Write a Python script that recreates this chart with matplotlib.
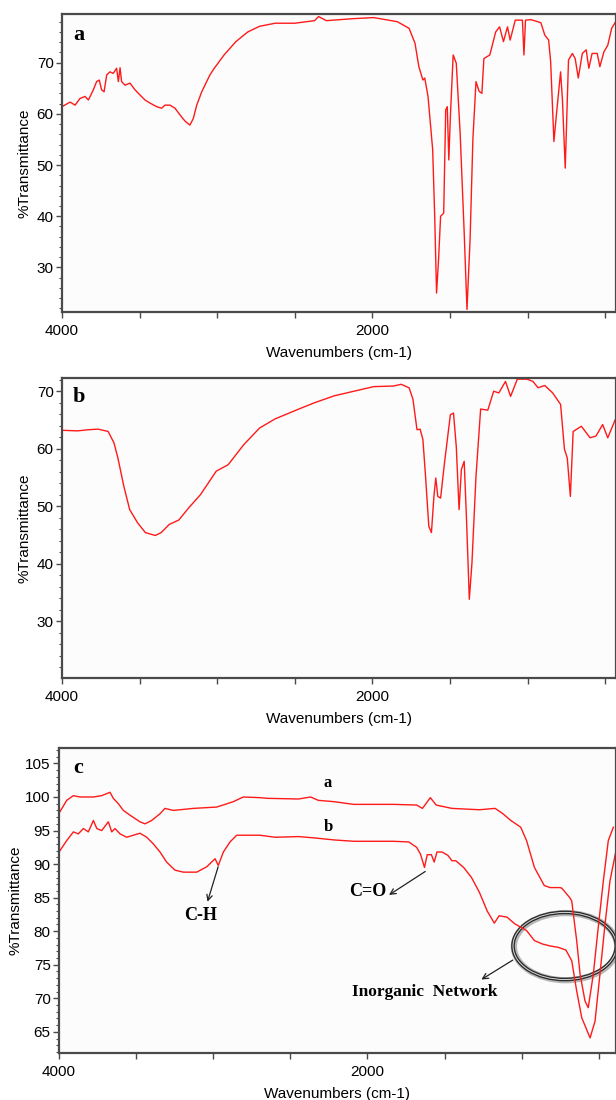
import matplotlib
matplotlib.use("Agg")
import matplotlib.pyplot as plt
from matplotlib.patches import Ellipse
from matplotlib.ticker import MultipleLocator, FixedLocator, FuncFormatter

# spectrum a
wn_a = [4000, 3948, 3916, 3884, 3852, 3830, 3798, 3777, 3760, 3745, 3729, 3712, 3691, 3670,
        3648, 3637, 3626, 3616, 3594, 3562, 3530, 3498, 3465, 3433, 3390, 3358, 3337, 3304,
        3272, 3240, 3208, 3176, 3154, 3132, 3100, 3068, 3047, 3019, 2956, 2880,
        2803, 2727, 2626, 2500, 2373, 2347, 2297, 2119, 1992, 1916, 1840, 1764, 1726, 1701,
        1675, 1663, 1642, 1612, 1599, 1587, 1574, 1561, 1541, 1528, 1518, 1508, 1498, 1480,
        1460, 1435, 1409, 1391, 1371, 1353, 1333, 1313, 1295, 1282, 1244, 1206, 1181, 1156,
        1130, 1113, 1080, 1034, 1024, 1014, 979, 915, 890, 865, 852, 831, 814, 788, 776, 758,
        737, 712, 694, 674, 648, 623, 606, 585, 552, 535, 509, 484, 459, 433]
t_a = [61.4, 62.3, 61.7, 63.0, 63.4, 62.7, 64.7, 66.3, 66.6, 64.7, 64.3, 67.6, 68.2, 67.9,
       68.9, 66.3, 69.0, 66.3, 65.6, 66.0, 64.7, 63.7, 62.7, 62.1, 61.4, 61.1, 61.7, 61.7,
       61.1, 59.8, 58.6, 57.8, 59.1, 61.7, 64.3, 66.3, 67.6, 68.9, 71.5, 74.1,
       76.0, 77.1, 77.7, 77.7, 78.2, 79.0, 78.2, 78.6, 78.8, 78.4, 78.0, 76.7, 73.8, 69.2,
       66.6, 67.0, 63.4, 53.0, 40.0, 25.0, 31.6, 40.0, 40.6, 60.8, 61.4, 51.0, 59.5, 71.5,
       69.9, 56.2, 36.8, 21.8, 35.5, 55.0, 66.3, 64.4, 64.0, 70.8, 71.5, 76.0, 77.0, 74.1,
       77.0, 74.4, 78.3, 78.3, 71.5, 78.3, 78.4, 77.8, 75.4, 74.4, 70.2, 54.6, 60.1, 68.2,
       62.7, 49.4, 70.5, 71.8, 70.8, 67.0, 71.8, 72.5, 68.9, 71.8, 71.8, 69.2, 72.1, 73.4,
       76.7, 78.0]

# spectrum b
wn_b = [4000, 3900, 3830, 3767, 3703, 3665, 3640, 3602, 3564, 3513, 3463, 3399, 3361, 3310,
        3247, 3184, 3108, 3006, 2930, 2829, 2727, 2626, 2474, 2373, 2246, 2119, 1992, 1866,
        1815, 1764, 1739, 1713, 1693, 1675, 1658, 1637, 1620, 1604, 1592, 1579, 1561, 1536,
        1498, 1478, 1460, 1442, 1427, 1409, 1394, 1376, 1359, 1333, 1303, 1257, 1219, 1186,
        1143, 1110, 1067, 1004, 966, 933, 890, 839, 788, 763, 745, 725, 707, 654, 598, 560,
        517, 484, 426]
t_b = [63.2, 63.1, 63.3, 63.4, 63.0, 61.0, 58.4, 53.5, 49.4, 47.1, 45.4, 44.9, 45.4, 46.8,
       47.6, 49.7, 52.0, 56.1, 57.2, 60.7, 63.6, 65.2, 66.9, 68.0, 69.2, 70.0, 70.8, 70.9,
       71.2, 70.6, 68.6, 63.3, 63.4, 61.6, 55.2, 46.5, 45.4, 51.7, 54.9, 51.7, 51.4, 57.5,
       65.9, 66.2, 60.4, 49.4, 56.4, 57.8, 47.7, 33.8, 40.1, 55.2, 66.9, 66.7, 70.0, 69.7,
       71.7, 69.1, 72.1, 72.1, 71.7, 70.6, 71.0, 69.7, 67.7, 59.9, 58.4, 51.7, 63.0, 63.9,
       61.9, 62.2, 64.2, 61.9, 65.7]

# overlay spectra (panel c)
wn_ca = [4000, 3994, 3950, 3907, 3864, 3777, 3723, 3669, 3648, 3615, 3583, 3540, 3475, 3442,
         3399, 3345, 3313, 3259, 3129, 2977, 2870, 2805, 2696, 2650, 2446, 2369, 2318, 2216,
         2089, 1834, 1681, 1643, 1592, 1554, 1452, 1274, 1172, 1121, 1070, 1006, 968, 917,
         853, 815, 751, 739, 688, 675, 643, 621, 589, 568, 535, 503, 470, 438, 405]
t_ca = [97.6, 97.8, 99.5, 100.2, 100.0, 100.0, 100.2, 100.7, 99.8, 99.0, 98.0, 97.3, 96.3,
        96.0, 96.5, 97.5, 98.3, 98.0, 98.3, 98.5, 99.3, 100.0, 99.9, 99.8, 99.7, 100.0, 99.5,
        99.3, 98.9, 98.9, 98.8, 98.3, 99.9, 98.8, 98.3, 98.1, 98.3, 97.5, 96.5, 95.5, 93.5,
        89.5, 86.8, 86.5, 86.5, 86.4, 85.0, 84.5, 78.6, 73.6, 69.6, 68.6, 73.6, 80.6, 87.5,
        93.5, 95.5]

wn_cb = [4000, 3994, 3950, 3907, 3875, 3842, 3810, 3777, 3755, 3723, 3680, 3658, 3637, 3604,
         3561, 3475, 3431, 3388, 3345, 3302, 3248, 3194, 3107, 3042, 2988, 2967, 2934, 2891,
         2848, 2696, 2599, 2446, 2344, 2216, 2089, 1962, 1834, 1732, 1681, 1656, 1630, 1612,
         1585, 1567, 1549, 1516, 1478, 1452, 1427, 1376, 1325, 1274, 1223, 1177, 1146, 1095,
         1044, 968, 917, 866, 815, 764, 713, 675, 643, 610, 556, 524, 492, 459, 427, 388]
t_cb = [91.7, 92.0, 93.5, 94.8, 94.5, 95.3, 94.8, 96.5, 95.3, 95.0, 96.3, 94.8, 95.3, 94.5,
        94.0, 94.6, 94.0, 93.0, 91.8, 90.3, 89.1, 88.8, 88.8, 89.6, 90.8, 89.8, 91.8, 93.3,
        94.3, 94.3, 94.0, 94.1, 93.9, 93.6, 93.4, 93.4, 93.4, 93.3, 92.5, 91.5, 89.5, 91.4,
        91.4, 90.3, 91.8, 91.8, 91.3, 90.5, 90.5, 89.5, 88.0, 85.8, 83.0, 81.2, 82.3, 82.1,
        81.1, 80.1, 78.6, 78.1, 77.8, 77.6, 77.2, 75.6, 71.1, 67.1, 64.1, 66.6, 73.6, 81.1,
        87.5, 92.0]

W, H = 616, 1100
RED = "#ff1a1a"
SPINE = "#4a4a4a"
SANS = "Liberation Sans"
SERIF = "Liberation Serif"

fig = plt.figure(figsize=(W / 100, H / 100), dpi=100)


def add_panel(left, top, right, bottom):
    return fig.add_axes([left / W, 1 - bottom / H, (right - left) / W, (bottom - top) / H])


def style(ax, xlim, ylim, ymajor, yminor, ylabelpad=4):
    ax.set_facecolor("#fcfcfc")
    ax.set_xlim(*xlim)
    ax.set_ylim(*ylim)
    for s in ax.spines.values():
        s.set_color(SPINE)
        s.set_linewidth(1.6)
    ax.xaxis.set_major_locator(FixedLocator([4000, 3500, 3000, 2500, 2000, 1500, 1000, 500]))
    ax.xaxis.set_major_formatter(FuncFormatter(lambda v, p: f"{v:.0f}" if v in (4000, 2000) else ""))
    ax.yaxis.set_major_locator(MultipleLocator(ymajor))
    ax.yaxis.set_minor_locator(MultipleLocator(yminor))
    ax.tick_params(axis="both", which="major", direction="out", length=4, width=1,
                   color=SPINE, labelsize=11, pad=2)
    ax.tick_params(axis="x", which="major", pad=4.5)
    ax.tick_params(axis="y", which="minor", direction="out", length=2.5, width=0.8, color=SPINE)
    for lab in ax.get_xticklabels() + ax.get_yticklabels():
        lab.set_fontfamily(SANS)
    ax.set_xlabel("Wavenumbers (cm-1)", fontsize=11, family=SANS, labelpad=6)
    ax.set_ylabel("%Transmittance", fontsize=11, family=SANS, labelpad=ylabelpad)


# panel a
ax1 = add_panel(62, 14, 616, 312)
ax1.plot(wn_a, t_a, color=RED, lw=1.0)
style(ax1, (4000, 431), (21.3, 79.5), 10, 2)
ax1.set_yticks([30, 40, 50, 60, 70])
ax1.text(0.02, 0.93, "a", transform=ax1.transAxes, family=SERIF, weight="bold",
         fontsize=16, va="center", ha="left")

# panel b
ax2 = add_panel(62, 378, 616, 678)
ax2.plot(wn_b, t_b, color=RED, lw=1.0)
style(ax2, (4000, 431), (20.1, 72.3), 10, 2)
ax2.set_yticks([30, 40, 50, 60, 70])
ax2.text(0.02, 0.935, "b", transform=ax2.transAxes, family=SERIF, weight="bold",
         fontsize=16, va="center", ha="left")

# panel c
ax3 = add_panel(59, 748, 616, 1053)
ax3.plot(wn_ca, t_ca, color=RED, lw=1.0)
ax3.plot(wn_cb, t_cb, color=RED, lw=1.0)
style(ax3, (4000, 388), (61.85, 107.3), 5, 1, ylabelpad=2)
ax3.text(0.025, 0.935, "c", transform=ax3.transAxes, family=SERIF, weight="bold",
         fontsize=16, va="center", ha="left")

bold = dict(family=SERIF, weight="bold", ha="center", va="center")
ax3.text(2255, 102.1, "a", fontsize=12, **bold)
ax3.text(2255, 95.5, "b", fontsize=12, **bold)
ax3.text(3083, 82.4, "C-H", fontsize=13, **bold)
ax3.text(1995, 85.9, "C=O", fontsize=13, **bold)
ax3.text(1630, 70.9, "Inorganic  Network", fontsize=12.5, **bold)

arrow = dict(arrowstyle="->", color="#222222", lw=0.9, shrinkA=0, shrinkB=0)
ax3.annotate("", xy=(3037, 84.4), xytext=(2968, 89.6), arrowprops=arrow)
ax3.annotate("", xy=(1860, 85.4), xytext=(1625, 88.9), arrowprops=arrow)
ax3.annotate("", xy=(1261, 72.8), xytext=(1057, 75.7), arrowprops=arrow)

# highlight ring around the inorganic band
ring_shadow = Ellipse((715, 77.7), 670, 10.0, fill=False, ec="#9a9a9a", lw=4.5, alpha=0.7)
ring = Ellipse((721, 77.8), 670, 10.0, fill=False, ec="#2b2b2b", lw=2.6)
ring_inner = Ellipse((721, 77.8), 670, 10.0, fill=False, ec="#d8d8d8", lw=0.7)
for e in (ring_shadow, ring, ring_inner):
    e.set_clip_on(False)
    ax3.add_patch(e)

fig.savefig("out.png", dpi=100, facecolor="white")
